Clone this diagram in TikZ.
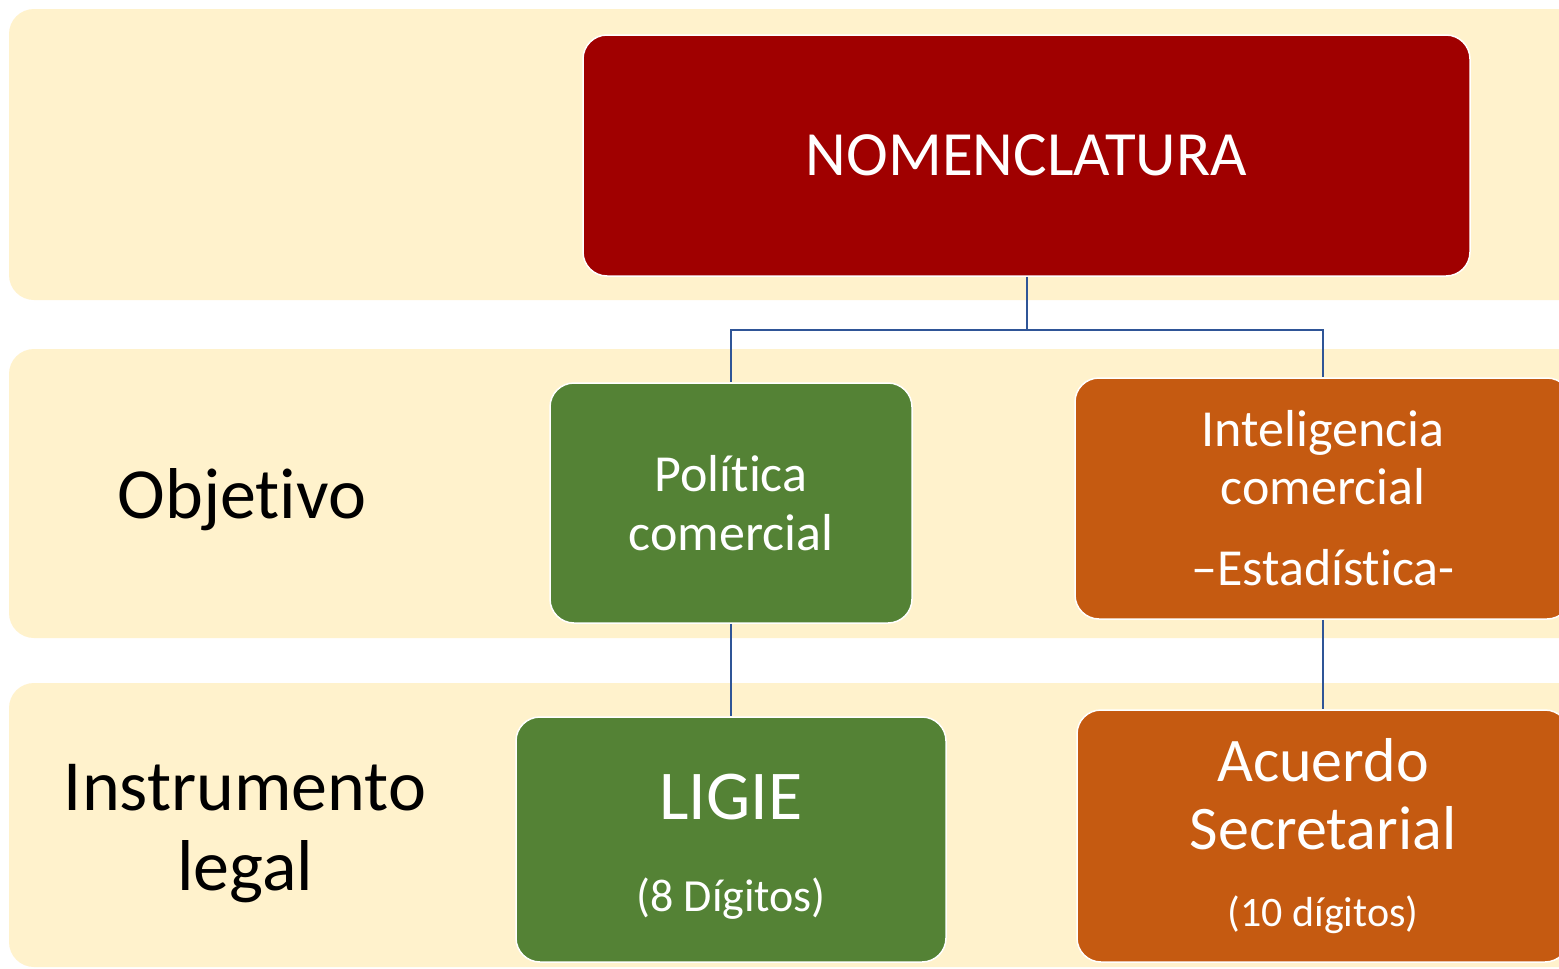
\documentclass[tikz,border=0pt]{standalone}
\usepackage{fontspec}
\setmainfont{Carlito}[RawFeature={-liga;-clig;-calt;-dlig}]
\newcommand{\nolig}{\kern0pt{}}
\definecolor{bandfill}{HTML}{FFF2CC}
\definecolor{nomred}{HTML}{A00000}
\definecolor{polgreen}{HTML}{548235}
\definecolor{intorange}{HTML}{C55A11}
\definecolor{connblue}{HTML}{2F5597}
\tikzset{
  band/.style={fill=bandfill, draw=none, rounded corners=25pt},
  boxbase/.style={rectangle, rounded corners=24pt, draw=white, line width=1.5pt,
    inner sep=0pt, align=center, text=white},
  redbox/.style={boxbase, fill=nomred},
  greenbox/.style={boxbase, fill=polgreen},
  orangebox/.style={boxbase, fill=intorange},
  conn/.style={draw=connblue, line width=2pt},
  rowlabel/.style={align=center, text=black, inner sep=0pt}
}
\begin{document}
\begin{tikzpicture}[x=1pt, y=-1pt]
\useasboundingbox (0,0) rectangle (1559,969);
\fill[white] (0,0) rectangle (1559,969);
\begin{scope}
\clip (0,0) rectangle (1559,969);
% bands
\path[band] (9,9) rectangle (1600,300);
\path[band] (9,349) rectangle (1600,638);
\path[band] (9,683) rectangle (1600,967);
% boxes
\node[redbox, minimum width=887pt, minimum height=241pt, font=\fontsize{63}{76}\selectfont]
  (nom) at (1026.5,155.5) {NOMENCLATURA};
\node[greenbox, minimum width=362pt, minimum height=240pt, font=\fontsize{52}{59}\selectfont]
  (pol) at (731,503) {Polít\nolig ica\\comercial};
\node[orangebox, minimum width=496pt, minimum height=241pt, font=\fontsize{52}{58}\selectfont]
  (intel) at (1323,498.5) {Inteligencia\\comercial\\[23pt]–Estadíst\nolig ica-};
\node[greenbox, minimum width=430pt, minimum height=245pt, font=\fontsize{70}{92}\selectfont]
  (ligie) at (731,839.5) {\rule{0pt}{59pt}LIGIE\\{\fontsize{46}{92}\selectfont (8 Dígitos)}};
\node[orangebox, minimum width=492pt, minimum height=252pt, font=\fontsize{62}{68}\selectfont]
  (acu) at (1323,836) {Acuerdo\\Secretarial\\[9pt]{\fontsize{42}{68}\selectfont (10 dígitos)}};
% row labels
\node[rowlabel, anchor=base, font=\fontsize{72}{80}\selectfont] (obj) at (242,518) {Objet\nolig ivo};
\node[rowlabel, anchor=base, font=\fontsize{72}{80}\selectfont] (inst) at (245,890) {Instrumento\\legal};
% connectors
\draw[conn] (nom.south) -- ++(0,53) coordinate (split) -| (pol.north);
\draw[conn] (split) -| (intel.north);
\draw[conn] (pol.south) -- (ligie.north);
\draw[conn] (intel.south) -- (acu.north);
\end{scope}
\end{tikzpicture}
\end{document}
